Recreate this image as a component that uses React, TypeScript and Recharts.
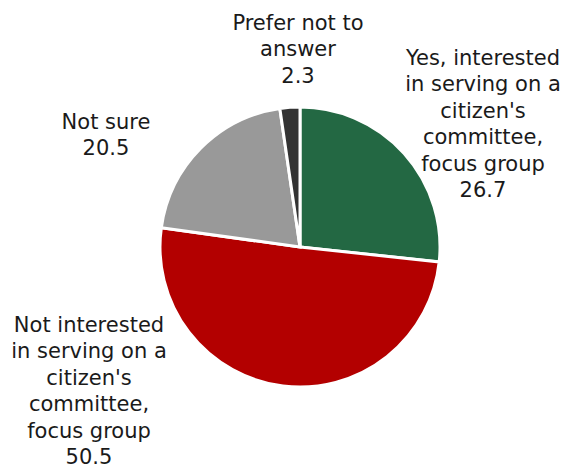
import React from "react"
import { PieChart, Pie, Cell } from "recharts"

const categories = [
  ["Yes, interested", "in serving on a", "citizen's", "committee,", "focus group"],
  ["Not interested", "in serving on a", "citizen's", "committee,", "focus group"],
  ["Not sure"],
  ["Prefer not to", "answer"],
]
const values = [26.7, 50.5, 20.5, 2.3]
const colors = ["#236843", "#B30000", "#999999", "#333333"]

// label block placement relative to the pie centre (first baseline, centred)
const labelOffsets = [
  { dx: 183, dy: -182 },
  { dx: -211, dy: 85 },
  { dx: -194, dy: -118 },
  { dx: -2, dy: -217 },
]

const data = categories.map((lines, i) => ({ name: lines.join(" "), lines, value: values[i] }))

const LINE_H = 26.4

function renderLabel(props: any) {
  const { cx, cy, index } = props
  const off = labelOffsets[index]
  const lines = [...data[index].lines, String(data[index].value)]
  const x = cx + off.dx
  const y = cy + off.dy
  return (
    <text x={x} y={y} textAnchor="middle" fill="#1a1a1a" fontSize={21} fontFamily="DejaVu Sans">
      {lines.map((l, i) => (
        <tspan key={i} x={x} y={y + i * LINE_H}>{l}</tspan>
      ))}
    </text>
  )
}

export default function App() {
  return (
    <div style={{ position: "absolute", left: 0, top: 0, width: 563, height: 468, background: "#fff" }}>
      <PieChart width={563} height={468} margin={{ top: 0, right: 0, bottom: 0, left: 0 }}>
        <Pie
          data={data}
          dataKey="value"
          cx={300}
          cy={247}
          outerRadius={140}
          startAngle={90}
          endAngle={-270}
          stroke="#fff"
          strokeWidth={3}
          label={renderLabel}
          labelLine={false}
          isAnimationActive={false}
        >
          {data.map((d, i) => (
            <Cell key={d.name} fill={colors[i]} />
          ))}
        </Pie>
      </PieChart>
    </div>
  )
}
